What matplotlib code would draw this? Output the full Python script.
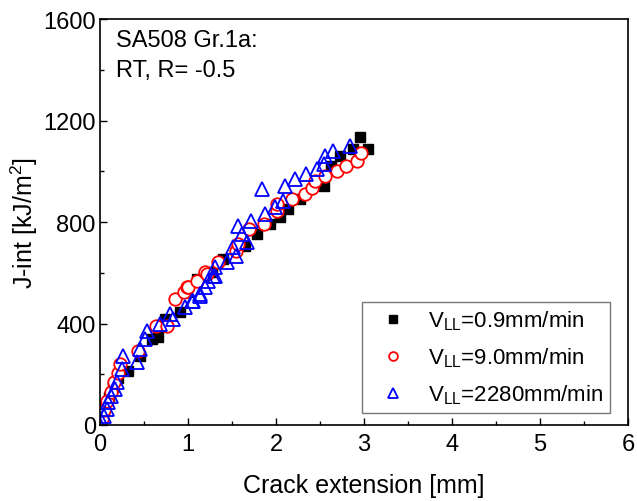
import numpy as np
import matplotlib.pyplot as plt

plt.rcParams['font.family'] = ['Liberation Sans', 'DejaVu Sans']
plt.rcParams['mathtext.fontset'] = 'custom'
plt.rcParams['mathtext.rm'] = 'Liberation Sans'
plt.rcParams['mathtext.it'] = 'Liberation Sans'

# data (crack extension in mm, J in kJ/m2)
x_sq = [0.0, 0.03, 0.06, 0.10, 0.15, 0.20, 0.32, 0.45, 0.59, 0.66, 0.74, 0.91,
        0.985, 1.10, 1.27, 1.40, 1.65, 1.78, 1.93, 2.05, 2.14, 2.27, 2.54,
        2.63, 2.73, 2.88, 2.95, 3.05]
j_sq = [0, 30, 70, 110, 150, 185, 214, 270, 339, 347, 418, 445,
        523, 575, 602, 654, 707, 753, 792, 820, 851, 891, 943,
        1022, 1061, 1088, 1134, 1088]

x_ci = [0.0, 0.02, 0.05, 0.08, 0.12, 0.16, 0.20, 0.227, 0.435, 0.64, 0.76,
        0.85, 0.95, 0.985, 1.0, 1.10, 1.19, 1.21, 1.34, 1.55, 1.57, 1.69,
        1.86, 2.01, 2.01, 2.18, 2.33, 2.41, 2.44, 2.56, 2.69, 2.80, 2.92, 2.97]
j_ci = [0, 25, 60, 95, 130, 170, 205, 240, 293, 391, 391,
        497, 523, 543, 543, 569, 603, 595, 641, 687, 713, 772,
        792, 845, 871, 891, 910, 933, 963, 982, 1002, 1022, 1042, 1072]

x_tr = [0.0, 0.02, 0.04, 0.076, 0.095, 0.13, 0.17, 0.19, 0.246, 0.265, 0.42,
        0.455, 0.51, 0.53, 0.68, 0.795, 0.83, 0.966, 1.04, 1.06, 1.136, 1.136,
        1.19, 1.23, 1.28, 1.31, 1.31, 1.44, 1.515, 1.55, 1.57, 1.61, 1.67,
        1.72, 1.84, 1.875, 1.99, 2.08, 2.10, 2.22, 2.34, 2.46, 2.54, 2.56,
        2.65, 2.84]
j_tr = [0, 12, 37, 63, 90, 115, 142, 169, 221, 273, 247,
        300, 339, 372, 398, 437, 418, 465, 490, 490, 516, 510,
        543, 569, 587, 588, 621, 641, 700, 667, 785, 753, 720,
        805, 930, 832, 858, 884, 943, 969, 989, 1011, 1029, 1061,
        1081, 1101]

labels = ['V$_{\\mathregular{LL}}$=0.9mm/min',
          'V$_{\\mathregular{LL}}$=9.0mm/min',
          'V$_{\\mathregular{LL}}$=2280mm/min']

fs = 17

fig = plt.figure(figsize=(6.37, 5.02), dpi=100)
ax = fig.add_axes([0.157, 0.1514, 0.829, 0.8086])

ax.plot(x_sq, j_sq, 's', color='black', markersize=7.5, linestyle='none',
        label=labels[0])
ax.plot(x_ci, j_ci, 'o', mfc='white', mec='red', mew=1.3, markersize=9,
        linestyle='none', label=labels[1])
ax.plot(x_tr, j_tr, '^', mfc='none', mec='blue', mew=1.3, markersize=10.5,
        linestyle='none', label=labels[2])

ax.set_xlim(0, 6)
ax.set_ylim(0, 1600)
ax.set_xticks(np.arange(0, 7, 1))
ax.set_xticks(np.arange(0, 6.01, 0.5), minor=True)
ax.set_yticks(np.arange(0, 1601, 400))
ax.set_yticks(np.arange(0, 1601, 200), minor=True)
ax.tick_params(which='both', direction='in', top=False, right=False,
               labelsize=fs, width=1)
ax.tick_params(which='major', length=5)
ax.tick_params(which='minor', length=3)
ax.tick_params(axis='x', pad=6)
ax.tick_params(axis='y', pad=3)
for s in ax.spines.values():
    s.set_linewidth(1.2)

ax.set_xlabel('Crack extension [mm]', fontsize=18, labelpad=13)
ax.set_ylabel('J-int [kJ/m$^2$]', fontsize=18, labelpad=2)

ax.text(0.03, 0.975, 'SA508 Gr.1a:\nRT, R= -0.5', transform=ax.transAxes,
        fontsize=fs, va='top', ha='left', linespacing=1.45)

leg = ax.legend(loc='lower right', bbox_to_anchor=(0.966, 0.03), fontsize=16,
                frameon=True, fancybox=False, edgecolor='#555555',
                handletextpad=0.5, borderpad=0.3, labelspacing=0.6,
                markerscale=0.7, handlelength=2.2, borderaxespad=0)
leg.get_frame().set_linewidth(1.0)

fig.savefig('out.png', dpi=100)
